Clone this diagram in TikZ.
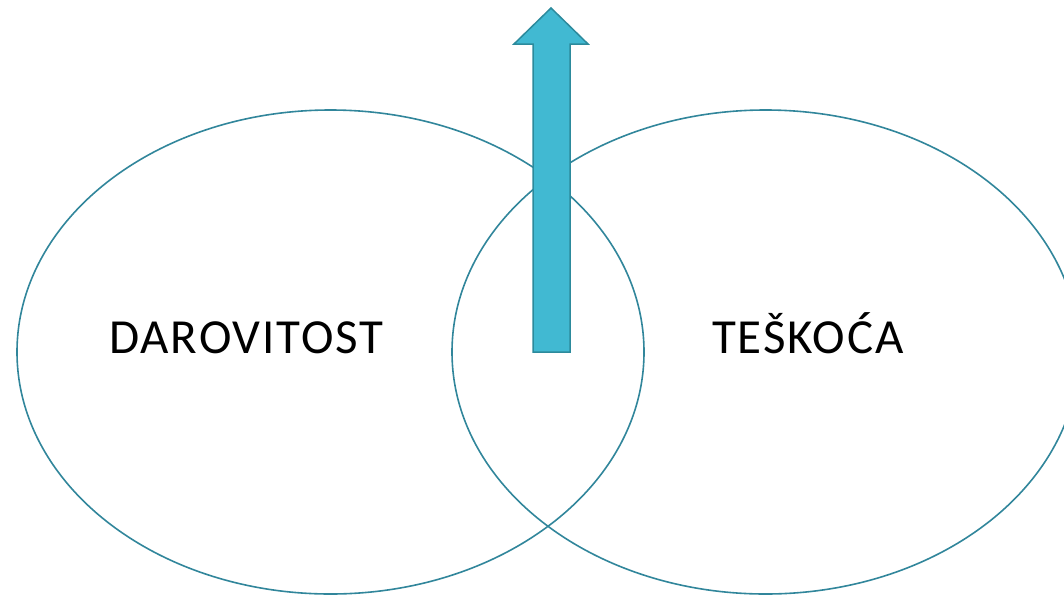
\documentclass[tikz,border=0pt]{standalone}
\usepackage{fontspec}
\setmainfont[LetterSpace=4]{Carlito}
\definecolor{rub}{HTML}{31869B}
\definecolor{strel}{HTML}{41B9D2}
\definecolor{strelrub}{HTML}{2C8A9C}
\begin{document}
\begin{tikzpicture}[x=1pt, y=-1pt, krug/.style={draw=rub, line width=1.6pt},
    natpis/.style={font=\fontsize{49}{51}\selectfont, anchor=base, inner sep=0pt}]
  \useasboundingbox (0,0) rectangle (1064,597);
  \draw[krug] (330.5,352) ellipse [x radius=313.5, y radius=242];
  \draw[krug] (765.5,352) ellipse [x radius=313.5, y radius=242];
  \draw[strelrub, fill=strel, line width=1.5pt, line join=miter]
    (533,352) -- (533,44) -- (514,44) -- (551,8) -- (588,44) -- (570,44) -- (570,352) -- cycle;
  \node[natpis] (darovitost) at (246.5,353.3) {DAROVITOST};
  \node[natpis] (teskoca) at (808,353.3) {TEŠKOĆA};
\end{tikzpicture}
\end{document}
